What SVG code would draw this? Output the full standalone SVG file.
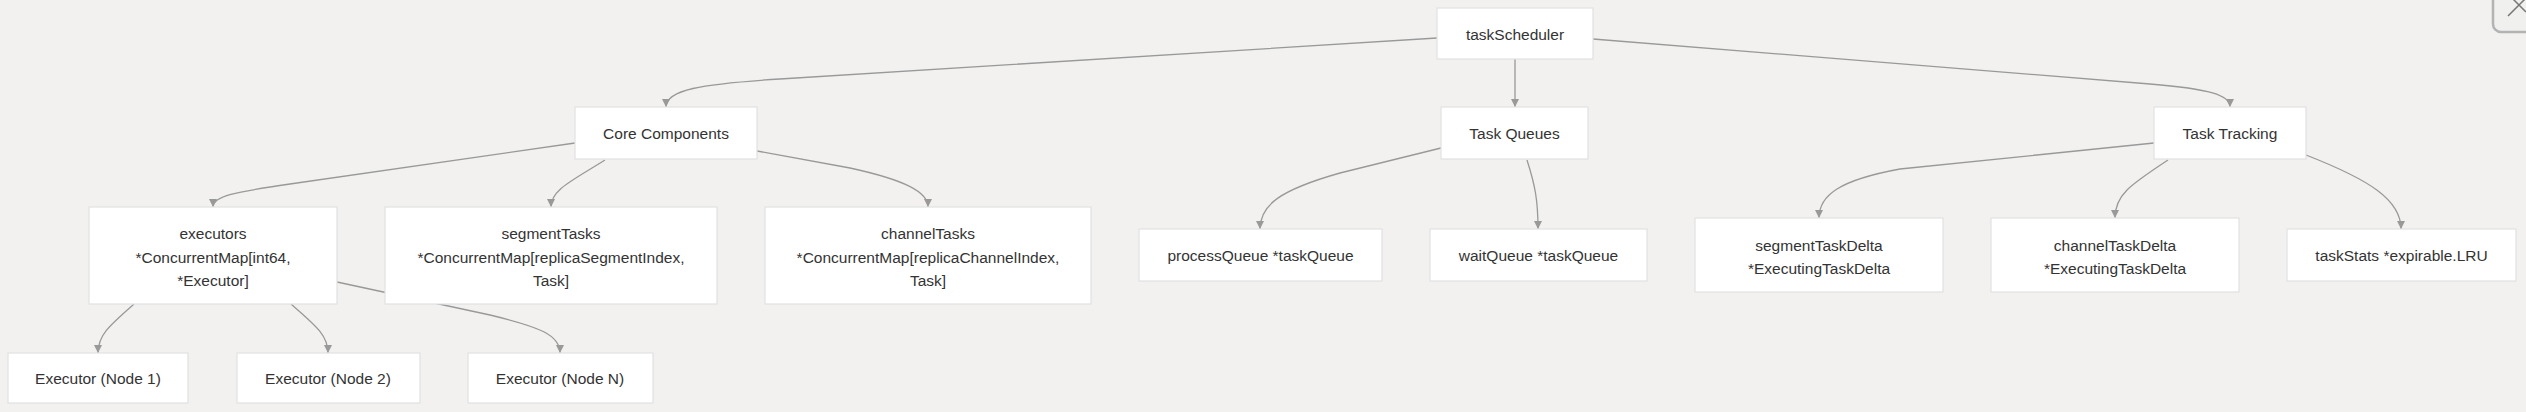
<svg xmlns="http://www.w3.org/2000/svg" width="2526" height="412" viewBox="0 0 2526 412">
<defs>
<marker id="arr" viewBox="0 0 10 10" refX="10" refY="5" markerWidth="8" markerHeight="8" markerUnits="userSpaceOnUse" orient="auto">
<path d="M0,0 L10,5 L0,10 z" fill="#999999"/>
</marker>
</defs>
<style>
.bg{fill:#f2f1ef}
.node rect{fill:#ffffff;stroke:#e2e2e2;stroke-width:1.2}
.node text{font-family:"Liberation Sans",Arial,sans-serif;font-size:15.5px;fill:#333333;text-anchor:middle;dominant-baseline:central}
.edge{fill:none;stroke:#999999;stroke-width:1.3;marker-end:url(#arr)}
</style>
<rect class="bg" x="0" y="0" width="2526" height="412"/>
<g id="connectors">
<path class="edge" d="M1437,38 L780,79 C700,84 666,90 666,107"/>
<path class="edge" d="M1515,59 L1515,107"/>
<path class="edge" d="M1593,39 L2150,84 C2210,89 2230,95 2230,107"/>
<path class="edge" d="M575,143 L290,184 C235,192 213,196 213,207"/>
<path class="edge" d="M605,160 C570,182 551,190 551,207"/>
<path class="edge" d="M757,151 L850,168 C905,180 928,192 928,207"/>
<path class="edge" d="M134,304 C110,325 98,335 98,353"/>
<path class="edge" d="M291,304 C315,325 328,335 328,353"/>
<path class="edge" d="M337,282 L490,315 C540,327 560,335 560,353"/>
<path class="edge" d="M1441,148 L1340,173 C1280,190 1260,205 1260,229"/>
<path class="edge" d="M1527,160 C1535,185 1538,200 1538,229"/>
<path class="edge" d="M2154,143 L1900,169 C1840,180 1819,195 1819,218"/>
<path class="edge" d="M2168,160 C2130,185 2115,195 2115,218"/>
<path class="edge" d="M2306,155 C2370,180 2401,200 2401,229"/>
</g>
<g id="taskScheduler" class="node"><rect x="1437" y="8" width="156" height="51"/><text x="1515" y="34">taskScheduler</text></g>
<g id="coreComponents" class="node"><rect x="575" y="107" width="182" height="52"/><text x="666" y="133">Core Components</text></g>
<g id="taskQueues" class="node"><rect x="1441" y="107" width="147" height="52"/><text x="1514.5" y="133">Task Queues</text></g>
<g id="taskTracking" class="node"><rect x="2154" y="107" width="152" height="52"/><text x="2230" y="133">Task Tracking</text></g>
<g id="executors" class="node"><rect x="89" y="207" width="248" height="97"/><text x="213" y="233.5">executors</text><text x="213" y="257">*ConcurrentMap[int64,</text><text x="213" y="280.5">*Executor]</text></g>
<g id="segmentTasks" class="node"><rect x="385" y="207" width="332" height="97"/><text x="551" y="233.5">segmentTasks</text><text x="551" y="257">*ConcurrentMap[replicaSegmentIndex,</text><text x="551" y="280.5">Task]</text></g>
<g id="channelTasks" class="node"><rect x="765" y="207" width="326" height="97"/><text x="928" y="233.5">channelTasks</text><text x="928" y="257">*ConcurrentMap[replicaChannelIndex,</text><text x="928" y="280.5">Task]</text></g>
<g id="processQueue" class="node"><rect x="1139" y="229" width="243" height="52"/><text x="1260.5" y="255">processQueue *taskQueue</text></g>
<g id="waitQueue" class="node"><rect x="1430" y="229" width="217" height="52"/><text x="1538.5" y="255">waitQueue *taskQueue</text></g>
<g id="segmentTaskDelta" class="node"><rect x="1695" y="218" width="248" height="74"/><text x="1819" y="245">segmentTaskDelta</text><text x="1819" y="268">*ExecutingTaskDelta</text></g>
<g id="channelTaskDelta" class="node"><rect x="1991" y="218" width="248" height="74"/><text x="2115" y="245">channelTaskDelta</text><text x="2115" y="268">*ExecutingTaskDelta</text></g>
<g id="taskStats" class="node"><rect x="2287" y="229" width="229" height="52"/><text x="2401.5" y="255">taskStats *expirable.LRU</text></g>
<g id="executorNode1" class="node"><rect x="8" y="353" width="180" height="50"/><text x="98" y="378">Executor (Node 1)</text></g>
<g id="executorNode2" class="node"><rect x="237" y="353" width="183" height="50"/><text x="328" y="378">Executor (Node 2)</text></g>
<g id="executorNodeN" class="node"><rect x="468" y="353" width="185" height="50"/><text x="560" y="378">Executor (Node N)</text></g>
<g id="closeButton">
<rect x="2493" y="-12" width="50" height="44" rx="8" fill="#f0f0ef" stroke="#b3b3b3" stroke-width="2.5"/>
<path d="M2508,16 L2526,-2 M2510,-4 L2526,12" stroke="#777777" stroke-width="1.5" fill="none"/>
</g>
</svg>
